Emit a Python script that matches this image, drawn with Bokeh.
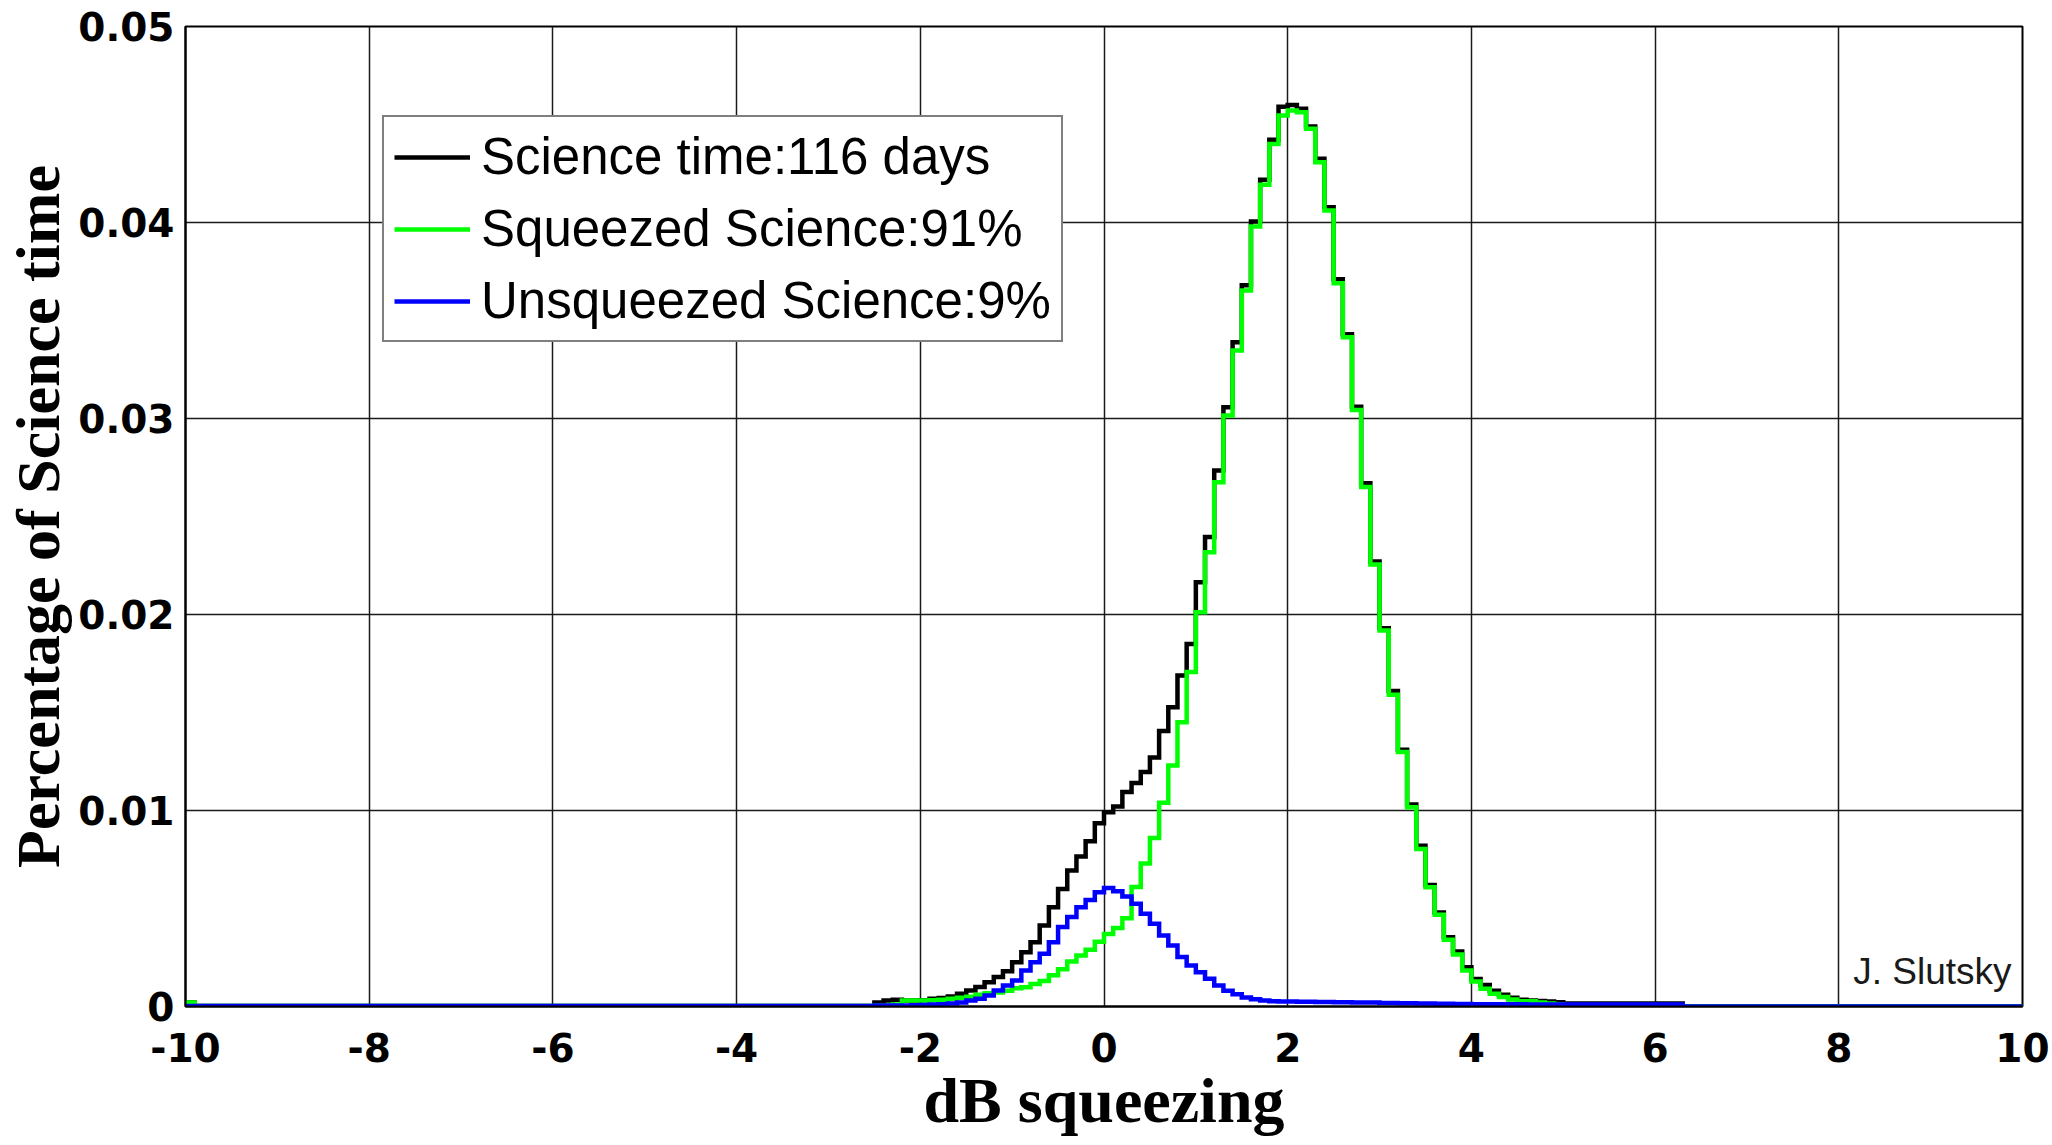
from bokeh.plotting import figure
from bokeh.models import Range1d, FixedTicker, Legend, LegendItem, Label
from bokeh.embed import file_html
from bokeh.resources import INLINE

# ---------------- data ----------------
# histogram bins: two left-tail bins, 75 bins of 0.1 dB from -2.5 to 5.0, two right-tail bins
edges_left = [-10.0, -9.9]
core_edges = [round(-2.5 + 0.1 * i, 1) for i in range(76)]
edges_right = [6.3, 10.0]
bin_edges = edges_left + core_edges + edges_right

science_left = [0.0002, 0.00003]
science_core = [
    0.0002, 0.0003, 0.00034, 0.0003, 0.0003, 0.00032, 0.00039, 0.00044, 0.00051, 0.00065,
    0.00082, 0.00099, 0.00124, 0.0015, 0.0018, 0.00226, 0.00277, 0.00328, 0.00413, 0.00507,
    0.0060, 0.00694, 0.00765, 0.00843, 0.00935, 0.00991, 0.0102, 0.01094, 0.0114, 0.01196,
    0.0127, 0.01405, 0.01527, 0.01689, 0.0185, 0.02165, 0.02395, 0.02735, 0.03058, 0.03389,
    0.0368, 0.04005, 0.04218, 0.04422, 0.0459, 0.0460, 0.0458, 0.0449, 0.04325, 0.04078,
    0.0371, 0.0343, 0.0306, 0.0267, 0.0227, 0.0193, 0.0161, 0.0131, 0.0103, 0.0082,
    0.0062, 0.0048, 0.00353, 0.0028, 0.0020, 0.0014, 0.0011, 0.0008, 0.0006, 0.00045,
    0.00035, 0.0003, 0.00028, 0.00025, 0.00022]
science_right = [0.00015, 0.0]

squeezed_left = [0.0002, 0.00003]
squeezed_core = [
    0.00005, 0.00005, 0.0001, 0.0003, 0.0003, 0.0003, 0.00032, 0.00035, 0.0004, 0.00045,
    0.0005, 0.0006, 0.00068, 0.00072, 0.0008, 0.00093, 0.00098, 0.00115, 0.0013, 0.0016,
    0.0019, 0.0023, 0.0026, 0.0029, 0.0033, 0.0037, 0.0040, 0.0045, 0.0061, 0.0073,
    0.0086, 0.0104, 0.0123, 0.0145, 0.01706, 0.02012, 0.02318, 0.02675, 0.03015, 0.03347,
    0.03653, 0.0398, 0.04192, 0.04401, 0.04546, 0.04571, 0.04563, 0.04478, 0.04308, 0.04061,
    0.0369, 0.03415, 0.03044, 0.0265, 0.02255, 0.01918, 0.0159, 0.01298, 0.01017, 0.00804,
    0.00609, 0.00468, 0.0034, 0.00265, 0.00184, 0.00128, 0.0009, 0.00065, 0.00048, 0.00036,
    0.00027, 0.00027, 0.0002, 0.00015, 0.0001]
squeezed_right = [0.00005, 0.0]

unsqueezed_left = [0.00003, 0.00003]
unsqueezed_core = [
    0.00005, 0.00005, 0.00005, 0.00005, 0.00006, 0.00008, 0.0001, 0.00012, 0.00015, 0.0002,
    0.0003, 0.00039, 0.00056, 0.00082, 0.00107, 0.00133, 0.00184, 0.00226, 0.00269, 0.00328,
    0.00405, 0.00456, 0.00507, 0.00544, 0.00583, 0.00605, 0.00588, 0.00561, 0.00524, 0.00473,
    0.00422, 0.00362, 0.00311, 0.00252, 0.00209, 0.00175, 0.00141, 0.00107, 0.0008, 0.00063,
    0.00046, 0.00037, 0.0003, 0.00027, 0.00025, 0.00025, 0.00024, 0.00024, 0.00023, 0.00023,
    0.00022, 0.00022, 0.00021, 0.0002, 0.0002, 0.00018, 0.00018, 0.00017, 0.00016, 0.00015,
    0.00015, 0.00014, 0.00014, 0.00013, 0.00013, 0.00012, 0.00012, 0.00012, 0.00011, 0.00011,
    0.00011, 0.0001, 0.0001, 0.0001, 0.0001]
unsqueezed_right = [0.0001, 0.0]

series_labels = ["Science time:116 days", "Squeezed Science:91%", "Unsqueezed Science:9%"]

x_ticks = [-10, -8, -6, -4, -2, 0, 2, 4, 6, 8, 10]
x_tick_labels = ["-10", "-8", "-6", "-4", "-2", "0", "2", "4", "6", "8", "10"]
y_ticks = [0, 0.01, 0.02, 0.03, 0.04, 0.05]
y_tick_labels = ["0", "0.01", "0.02", "0.03", "0.04", "0.05"]

x_label = "dB squeezing"
y_label = "Percentage of Science time"
credit = "J. Slutsky"

# ---------------- figure ----------------
p = figure(frame_width=1837, frame_height=980,
           min_border_left=185, min_border_right=30, min_border_top=26, min_border_bottom=120,
           x_range=Range1d(-10, 10), y_range=Range1d(0, 0.05),
           output_backend="svg", toolbar_location=None,
           background_fill_color="white", border_fill_color="white")

p.outline_line_color = "black"
p.outline_line_width = 2

for ax, ticks, labels in ((p.xaxis, x_ticks, x_tick_labels), (p.yaxis, y_ticks, y_tick_labels)):
    ax.ticker = FixedTicker(ticks=ticks)
    ax.major_label_overrides = {t: l for t, l in zip(ticks, labels)}
    ax.major_tick_in = 0
    ax.major_tick_out = 0
    ax.minor_tick_line_color = None
    ax.axis_line_color = "black"
    ax.axis_line_width = 2
    ax.major_label_text_font = "DejaVu Sans"
    ax.major_label_text_font_style = "bold"
    ax.major_label_text_font_size = "39px"
    ax.major_label_text_color = "black"
    ax.axis_label_text_font = "Liberation Serif"
    ax.axis_label_text_font_style = "bold"
    ax.axis_label_text_color = "black"

p.xaxis.major_label_standoff = 26
p.yaxis.major_label_standoff = 11

p.xaxis.axis_label = x_label
p.xaxis.axis_label_text_font_size = "64px"
p.xaxis.axis_label_standoff = 0
p.yaxis.axis_label = y_label
p.yaxis.axis_label_text_font_size = "62px"
p.yaxis.axis_label_standoff = 3

p.xgrid.ticker = FixedTicker(ticks=x_ticks)
p.ygrid.ticker = FixedTicker(ticks=y_ticks)
for g in (p.xgrid, p.ygrid):
    g.grid_line_color = "#1a1a1a"
    g.grid_line_width = 1.5
    g.grid_line_alpha = 1.0

def stairs(vals):
    return vals + [vals[-1]]

science = science_left + science_core + science_right
squeezed = squeezed_left + squeezed_core + squeezed_right
unsqueezed = unsqueezed_left + unsqueezed_core + unsqueezed_right

lw = 4.5
r_sci = p.step(bin_edges, stairs(science), mode="after", line_color="#000000", line_width=lw, line_join="miter")
r_sq = p.step(bin_edges, stairs(squeezed), mode="after", line_color="#00ff00", line_width=lw, line_join="miter")
r_un = p.step(bin_edges, stairs(unsqueezed), mode="after", line_color="#0000ff", line_width=lw, line_join="miter")

legend = Legend(items=[LegendItem(label=series_labels[0], renderers=[r_sci]),
                       LegendItem(label=series_labels[1], renderers=[r_sq]),
                       LegendItem(label=series_labels[2], renderers=[r_un])],
                location=(197, 664))
legend.label_text_font = "Liberation Sans"
legend.label_text_font_size = "51px"
legend.label_text_color = "black"
legend.glyph_width = 76
legend.glyph_height = 56
legend.label_height = 56
legend.label_standoff = 11
legend.spacing = 13
legend.padding = 10
legend.margin = 0
legend.border_line_color = "black"
legend.border_line_width = 2
legend.background_fill_color = "white"
legend.background_fill_alpha = 1.0
p.add_layout(legend)

p.add_layout(Label(x=1826, y=35, x_units="screen", y_units="screen", text=credit,
                   text_font="Liberation Sans", text_font_size="37px",
                   text_align="right", text_baseline="alphabetic", text_color="#1a1a1a"))

open("out.html", "w").write(file_html(p, INLINE))
